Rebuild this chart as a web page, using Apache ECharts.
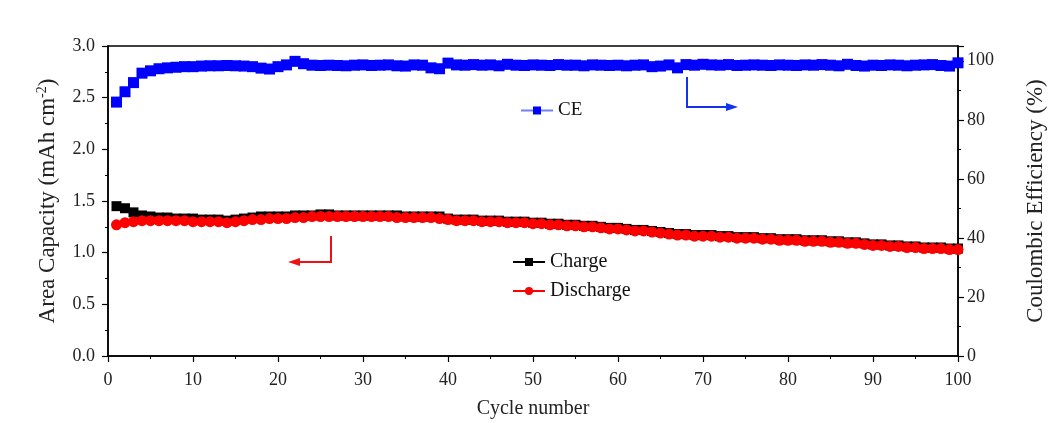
<!DOCTYPE html>
<html>
<head>
<meta charset="utf-8">
<script src="https://cdn.jsdelivr.net/npm/echarts@6/dist/echarts.min.js"></script>
<style>html,body{margin:0;padding:0;background:#fff}#c{width:1049px;height:423px}</style>
</head>
<body>
<div id="c"></div>
<script>
const cycles = Array.from({length: 100}, (_, i) => i + 1);
const charge = [
  1.45, 1.43, 1.39, 1.36, 1.35, 1.34, 1.34, 1.33, 1.33, 1.33,
  1.32, 1.32, 1.32, 1.31, 1.32, 1.33, 1.34, 1.35, 1.35, 1.35,
  1.35, 1.36, 1.36, 1.36, 1.37, 1.37, 1.36, 1.36, 1.36, 1.36,
  1.36, 1.36, 1.36, 1.36, 1.35, 1.35, 1.35, 1.35, 1.35, 1.33,
  1.32, 1.32, 1.32, 1.31, 1.31, 1.31, 1.30, 1.30, 1.30, 1.29,
  1.29, 1.28, 1.28, 1.27, 1.27, 1.26, 1.26, 1.25, 1.24, 1.24,
  1.23, 1.22, 1.22, 1.21, 1.20, 1.19, 1.18, 1.18, 1.17, 1.17,
  1.17, 1.16, 1.16, 1.15, 1.15, 1.15, 1.14, 1.14, 1.13, 1.13,
  1.13, 1.12, 1.12, 1.12, 1.11, 1.11, 1.10, 1.10, 1.09, 1.08,
  1.08, 1.07, 1.07, 1.06, 1.06, 1.05, 1.05, 1.05, 1.04, 1.04
];
const discharge = [
  1.27, 1.29, 1.30, 1.31, 1.31, 1.31, 1.31, 1.31, 1.31, 1.30,
  1.30, 1.30, 1.30, 1.29, 1.30, 1.31, 1.32, 1.32, 1.33, 1.33,
  1.33, 1.34, 1.34, 1.35, 1.35, 1.35, 1.35, 1.35, 1.35, 1.35,
  1.35, 1.35, 1.35, 1.34, 1.34, 1.34, 1.34, 1.34, 1.33, 1.32,
  1.31, 1.31, 1.31, 1.30, 1.30, 1.30, 1.29, 1.29, 1.29, 1.28,
  1.28, 1.27, 1.27, 1.26, 1.26, 1.25, 1.25, 1.24, 1.23, 1.23,
  1.22, 1.21, 1.21, 1.20, 1.19, 1.18, 1.17, 1.17, 1.16, 1.16,
  1.16, 1.15, 1.15, 1.14, 1.14, 1.14, 1.13, 1.13, 1.12, 1.12,
  1.12, 1.11, 1.11, 1.11, 1.10, 1.10, 1.09, 1.09, 1.08, 1.07,
  1.07, 1.06, 1.06, 1.05, 1.05, 1.04, 1.04, 1.04, 1.03, 1.03
];
const ce = [
  86.0, 89.5, 92.6, 95.8, 96.6, 97.3, 97.6, 97.8, 98.0, 98.0,
  98.2, 98.3, 98.3, 98.4, 98.3, 98.2, 98.0, 97.5, 97.2, 98.0,
  98.6, 99.8, 99.0, 98.5, 98.4, 98.5, 98.4, 98.3, 98.5, 98.6,
  98.4, 98.5, 98.6, 98.3, 98.2, 98.6, 98.5, 97.6, 97.3, 99.2,
  98.6, 98.5, 98.7, 98.5, 98.6, 98.3, 98.8, 98.5, 98.4, 98.6,
  98.5, 98.4, 98.7, 98.5, 98.5, 98.3, 98.6, 98.5, 98.4, 98.5,
  98.3, 98.5, 98.6, 98.0, 98.2, 98.6, 97.6, 98.7, 98.5, 98.8,
  98.6, 98.5, 98.7, 98.4, 98.5, 98.6, 98.5, 98.4, 98.6, 98.5,
  98.4, 98.6, 98.5, 98.7, 98.5, 98.3, 98.8, 98.4, 98.2, 98.5,
  98.4, 98.6, 98.5, 98.3, 98.5, 98.6, 98.7, 98.4, 98.2, 99.3
];

const FONT = '"Liberation Serif", "Times New Roman", serif';
const pair = arr => cycles.map((c, i) => [c, arr[i]]);

const chart = echarts.init(document.getElementById('c'), null, {renderer: 'canvas'});
const axisCommon = {
  axisLine: {show: true, lineStyle: {color: '#000', width: 1.5}},
  axisTick: {show: true, inside: false, length: 6, lineStyle: {color: '#000', width: 1.2}},
  minorTick: {show: true, splitNumber: 2, length: 3, lineStyle: {color: '#000', width: 1}},
  splitLine: {show: false},
  axisLabel: {color: '#222', fontFamily: FONT, fontSize: 18},
  nameTextStyle: {color: '#222', fontFamily: FONT, fontSize: 20}
};

chart.setOption({
  animation: false,
  backgroundColor: '#fff',
  grid: {left: 108, right: 91, top: 46, bottom: 67, show: true, borderColor: '#000', borderWidth: 1.5,
    backgroundColor: 'transparent', containLabel: false, outerBoundsMode: 'none'},
  legend: [
    {
      data: ['Charge', 'Discharge'], orient: 'vertical', left: 512, top: 252, padding: 0,
      itemWidth: 32, itemHeight: 10, itemGap: 9,
      textStyle: {fontFamily: FONT, fontSize: 20, color: '#111'}
    },
    {
      data: ['CE'], orient: 'vertical', left: 520, top: 101, padding: 0,
      itemWidth: 32, itemHeight: 10,
      textStyle: {fontFamily: FONT, fontSize: 19, color: '#111'}
    }
  ],
  xAxis: Object.assign({}, axisCommon, {
    type: 'value', min: 0, max: 100, interval: 10,
    name: 'Cycle number', nameLocation: 'middle', nameGap: 43,
    axisLabel: Object.assign({}, axisCommon.axisLabel, {margin: 15})
  }),
  yAxis: [
    Object.assign({}, axisCommon, {
      type: 'value', min: 0, max: 3, interval: 0.5, position: 'left',
      name: '{a|Area Capacity (mAh cm}{s|-2}{a|)}', nameLocation: 'middle', nameGap: 47, nameRotate: 90,
      nameTextStyle: {color: '#222', fontFamily: FONT, fontSize: 23,
        rich: {a: {fontFamily: FONT, fontSize: 23, color: '#222'}, s: {fontFamily: FONT, fontSize: 14, color: '#222', verticalAlign: 'top', padding: [0, 0, 12, 0]}}},
      axisLabel: Object.assign({}, axisCommon.axisLabel, {margin: 13, formatter: v => v.toFixed(1)})
    }),
    Object.assign({}, axisCommon, {
      type: 'value', min: 0, max: 105, interval: 20, position: 'right',
      name: 'Coulombic Efficiency (%)', nameLocation: 'middle', nameGap: 66, nameRotate: 90,
      nameTextStyle: {color: '#222', fontFamily: FONT, fontSize: 23},
      axisLabel: Object.assign({}, axisCommon.axisLabel, {margin: 9, showMaxLabel: false})
    })
  ],
  series: [
    {
      name: 'Charge', type: 'line', yAxisIndex: 0, data: pair(charge),
      symbol: 'rect', symbolSize: 10, showSymbol: true,
      itemStyle: {color: '#000'}, lineStyle: {color: '#000', width: 1}, z: 2
    },
    {
      name: 'Discharge', type: 'line', yAxisIndex: 0, data: pair(discharge),
      symbol: 'circle', symbolSize: 11,
      itemStyle: {color: '#ff0000'}, lineStyle: {color: '#ff0000', width: 1}, z: 3
    },
    {
      name: 'CE', type: 'line', yAxisIndex: 1, data: pair(ce),
      symbol: 'rect', symbolSize: 11,
      itemStyle: {color: '#0000ff'}, lineStyle: {color: '#6f7fff', width: 1}, z: 4
    }
  ],
  graphic: [
    {type: 'polyline', shape: {points: [[331, 236], [331, 262], [298, 262]]}, style: {stroke: '#ee1111', lineWidth: 2, fill: null}},
    {type: 'polygon', shape: {points: [[288, 262], [300, 258], [300, 266]]}, style: {fill: '#ee1111'}},
    {type: 'polyline', shape: {points: [[687, 77], [687, 107], [728, 107]]}, style: {stroke: '#1133ee', lineWidth: 2, fill: null}},
    {type: 'polygon', shape: {points: [[738, 107], [726, 103], [726, 111]]}, style: {fill: '#1133ee'}}
  ]
});
</script>
</body>
</html>
